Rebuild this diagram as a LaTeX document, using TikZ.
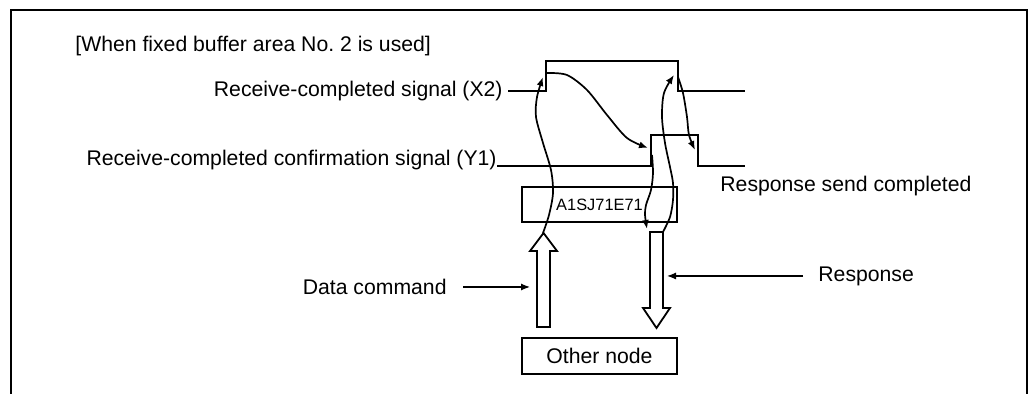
\documentclass[tikz,border=0pt]{standalone}
\usepackage{fontspec}
\setmainfont{Liberation Sans}
\usetikzlibrary{arrows.meta,positioning,calc}

\begin{document}
\begin{tikzpicture}[x=0.5pt, y=-0.5pt, >={Latex[length=4.5pt,width=3.5pt]},
    lbl/.style={font=\fontsize{10.6}{12}\selectfont, inner sep=0pt},
    wave/.style={line width=0.8pt},
    flow/.style={->, line width=0.85pt},
    unitbox/.style={draw, line width=0.8pt, minimum width=77.5pt, minimum height=17.5pt, inner sep=0pt},
    blockarrow/.style={draw, line width=0.9pt, fill=white}]
  \useasboundingbox (0,0) rectangle (1034,394);
  % frame, open at the bottom
  \draw[line width=1.4pt] (11,394) -- (11,10) -- (1027,10) -- (1027,394);
  \node[lbl, anchor=west] (title) at (75,46) {[When fixed buffer area No.~2 is used]};

  % signals
  \node[lbl, anchor=east] (x2lbl) at (503,91) {Receive-completed signal (X2)};
  \node[lbl, anchor=base east] (y1lbl) at (497,166) {Receive-completed confirmation signal (Y1)};
  \draw[wave] ($(x2lbl.east)+(5,0)$) -- (546,91) -- (546,61) -- (678,61) -- (678,91) -- (745,91);
  \draw[wave] (y1lbl.base east) -- (651,166) -- (651,135) -- (698,135) -- (698,166) -- (745,166);
  \node[lbl, anchor=west] (sent) at (720,186) {Response send completed};

  % module and other node
  \node[unitbox, font=\fontsize{8.2}{9}\selectfont] (unit) at (599.5,204.5) {A1SJ71E71};
  \node[unitbox, lbl, draw, minimum width=77.5pt, minimum height=18pt] (other) at (599.5,356) {Other node};

  % block arrows
  \draw[blockarrow] (537,327) -- (537,251) -- (530,251) -- (543.5,233) -- (557,251)
    -- (550,251) -- (550,327) -- cycle;
  \draw[blockarrow] (650,232) -- (650,308) -- (643,308) -- (656.5,328) -- (670,308)
    -- (663,308) -- (663,232) -- cycle;
  \node[lbl, anchor=east] (cmd) at (447,287) {Data command};
  \node[lbl, anchor=west] (resp) at (818,276) {Response};
  \coordinate (cmdtip) at (530,287);
  \coordinate (resptip) at (667,276);
  \draw[->, line width=0.6pt] ($(cmd.east)+(16,0)$) -- (cmdtip);
  \draw[->, line width=0.6pt] ($(resp.west)+(-15,0)$) -- (resptip);

  % sequence of events
  \draw[flow] plot[smooth] coordinates {(543,233) (549,215) (553,193) (551,170) (543,143)
    (536,117) (537,97) (543,77)};
  \draw[flow] plot[smooth] coordinates {(547,73) (567,75) (587,90) (607,115) (627,138) (648,148)};
  \draw[flow] plot[smooth] coordinates {(652,155) (653,173) (651,190) (646,205) (645,215) (647,229)};
  \draw[flow] plot[smooth] coordinates {(663,232) (670,217) (673,200) (673,183) (670,167)
    (665,143) (662,117) (664,93) (674,75)};
  \draw[flow] plot[smooth] coordinates {(678,77) (683,93) (687,117) (689,135) (695,150)};
\end{tikzpicture}
\end{document}
